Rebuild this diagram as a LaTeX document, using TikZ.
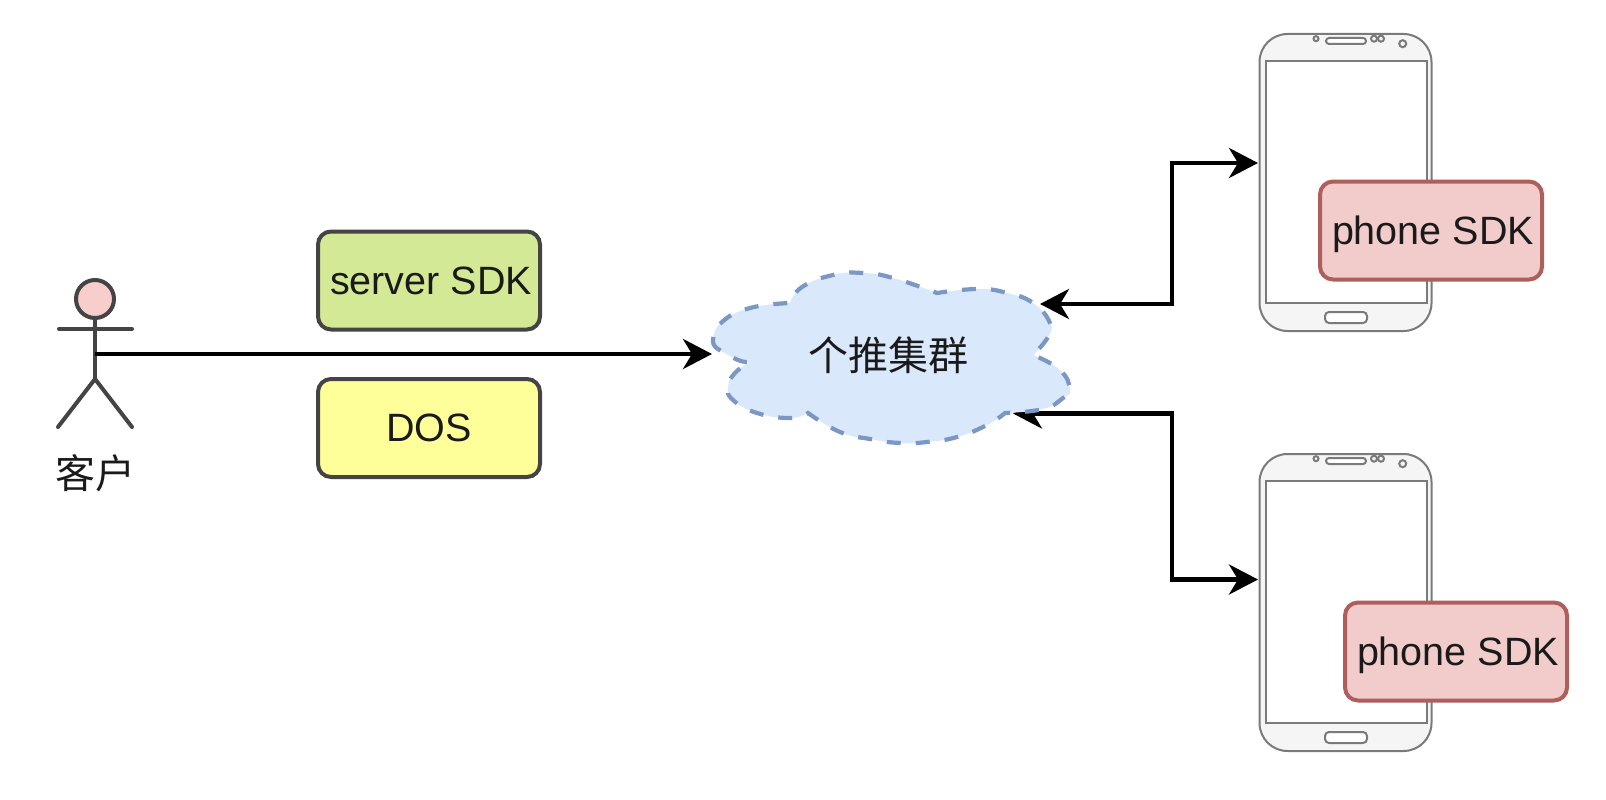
\documentclass[tikz,border=0pt]{standalone}
\usepackage{fontspec}
\setmainfont{Liberation Sans}
\newfontfamily\cjkfont{Noto Sans CJK SC}
\usetikzlibrary{arrows.meta}
\definecolor{strokeDark}{HTML}{444444}
\definecolor{phoneLine}{HTML}{7A7A7A}
\definecolor{phoneFill}{HTML}{F5F5F5}
\definecolor{greenFill}{HTML}{D3E995}
\definecolor{yellowFill}{HTML}{FFFF99}
\definecolor{pinkFill}{HTML}{F1CCCB}
\definecolor{pinkLine}{HTML}{AE5F5B}
\definecolor{cloudFill}{HTML}{DAE8FC}
\definecolor{cloudLine}{HTML}{7B97C4}
\definecolor{headFill}{HTML}{F8CECC}
\definecolor{textDark}{HTML}{1A1A1A}
\tikzset{
  sdkbox/.style={draw, line width=4pt, rounded corners=13pt, minimum width=222pt, minimum height=98pt, inner sep=0pt, text height=27pt, text depth=0pt, text=textDark, font=\fontsize{39.5}{44}\selectfont},
  greenbox/.style={sdkbox, draw=strokeDark, fill=greenFill},
  yellowbox/.style={sdkbox, draw=strokeDark, fill=yellowFill},
  pinkbox/.style={sdkbox, draw=pinkLine, fill=pinkFill},
  link/.style={line width=4.5pt, black},
  tipend/.style={-{Stealth[length=29pt,width=30pt,inset=9pt]}},
  tipboth/.style={{Stealth[length=29pt,width=30pt,inset=9pt]}-{Stealth[length=29pt,width=30pt,inset=9pt]}},
  actorline/.style={line width=4pt, strokeDark, line cap=round},
  phoneline/.style={draw=phoneLine, line width=2pt},
  cjklabel/.style={inner sep=0pt, text=textDark, font=\cjkfont\fontsize{40}{44}\selectfont}
}
\newcommand{\phonedraw}[2]{%
  \begin{scope}[shift={(0,#1)}]
    \node[phoneline, fill=phoneFill, rounded corners=28pt, minimum width=172pt, minimum height=297pt, inner sep=0pt] (#2) at (1345.5,182.5) {};
    \node[phoneline, fill=white, minimum width=161pt, minimum height=242pt, inner sep=0pt] (#2screen) at (1346.5,182) {};
    \node[phoneline, fill=white, rounded corners=3pt, minimum width=40pt, minimum height=6pt, inner sep=0pt] (#2speaker) at (1346,41) {};
    \node[phoneline, circle, minimum size=5pt, inner sep=0pt] (#2dotA) at (1316,38.7) {};
    \node[phoneline, circle, minimum size=6pt, inner sep=0pt] (#2dotB) at (1374,38.7) {};
    \node[phoneline, circle, minimum size=6pt, inner sep=0pt] (#2dotC) at (1381,38.7) {};
    \node[phoneline, circle, minimum size=7pt, inner sep=0pt] (#2cam) at (1402.7,43.7) {};
    \node[phoneline, fill=white, rounded corners=4pt, minimum width=42pt, minimum height=11pt, inner sep=0pt] (#2home) at (1346,317.5) {};
  \end{scope}}
\begin{document}
\begin{tikzpicture}[x=1pt,y=-1pt]
\useasboundingbox (0,0) rectangle (1606,800);
\fill[white] (0,0) rectangle (1606,800);

% phones
\phonedraw{0}{phoneA}
\phonedraw{420}{phoneB}
\node[pinkbox] (sdkA) at (1431,230.5) {\hspace*{4pt}phone SDK};
\node[pinkbox] (sdkB) at (1456,651.5) {\hspace*{4pt}phone SDK};

% left boxes
\node[greenbox] (server) at (429,280.5) {\hspace*{4pt}server SDK};
\node[yellowbox] (dos) at (429,428) {DOS};

% actor
\draw[actorline] (95,318) -- (95,379) coordinate (hip);
\draw[actorline] (59,329) -- (132,329);
\draw[actorline] (58,427) -- (hip) -- (132,427);
\node[circle, draw=strokeDark, fill=headFill, line width=4pt, minimum size=38pt, inner sep=0pt] (head) at (95,299) {};
\node[cjklabel] (custLabel) at (95,473) {客户};

% connector anchors
\coordinate (body) at (95,354);
\coordinate (cloudW) at (712,354);
\coordinate (cloudNE) at (1040,304);
\coordinate (cloudSE) at (1013,413.5);
\coordinate (phoneAin) at (1258,163);
\coordinate (phoneBin) at (1258,579.5);
\coordinate (elbowA) at (1172,304);
\coordinate (elbowB) at (1172,163);
\coordinate (elbowC) at (1172,413.5);
\coordinate (elbowD) at (1172,579.5);

% connectors
\draw[link, tipend] (body) -- (cloudW);
\draw[link, tipboth, line join=miter] (cloudNE) -- (elbowA) -- (elbowB) -- (phoneAin);
\draw[link, tipboth, line join=miter] (cloudSE) -- (elbowC) -- (elbowD) -- (phoneBin);

% cloud
\draw[draw=cloudLine, fill=cloudFill, line width=4.2pt, dash pattern=on 14pt off 15pt]
  plot[smooth, tension=0.8] coordinates {(718,349) (713,340) (722,322) (750,308) (790,303)}
  -- plot[smooth, tension=0.8] coordinates {(790,303) (802,287) (833,275) (863,273) (893,278) (937,293)}
  -- plot[smooth, tension=0.8] coordinates {(937,293) (978,289) (1007,293) (1033,303) (1050,323) (1048,337) (1033,355)}
  -- plot[smooth, tension=0.8] coordinates {(1033,355) (1060,370) (1070,390) (1063,398) (1043,409) (1005,413)}
  -- plot[smooth, tension=0.8] coordinates {(1005,413) (987,425) (957,437) (927,442) (900,443) (870,439) (840,432) (808,413)}
  -- plot[smooth, tension=0.8] coordinates {(808,413) (790,418) (757,413) (733,400) (728,387) (735,373) (750,362)}
  -- plot[smooth, tension=0.8] coordinates {(750,362) (738,360) (718,349)}
  -- cycle;
\node[cjklabel] (cloudLabel) at (888,355) {个推集群};
\end{tikzpicture}
\end{document}
